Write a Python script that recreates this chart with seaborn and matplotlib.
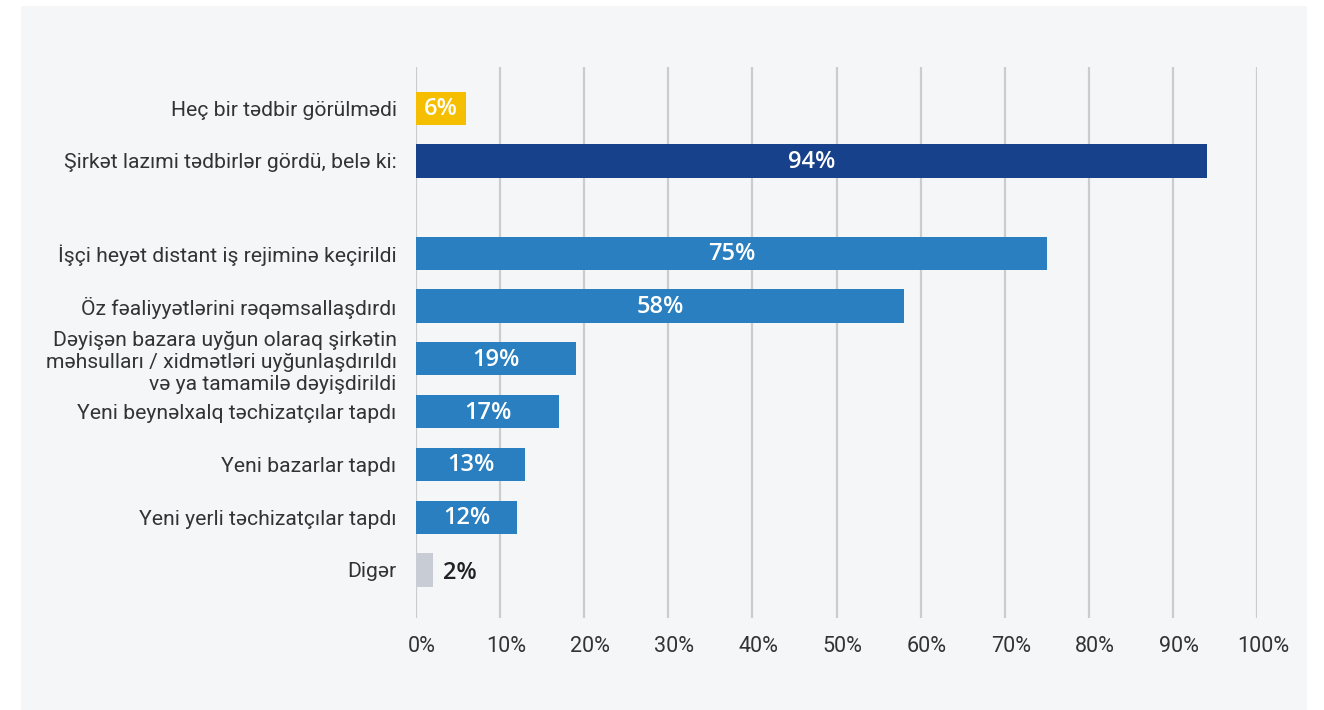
import numpy as np
import pandas as pd
import matplotlib.pyplot as plt
import matplotlib.transforms as mtransforms
import seaborn as sns
from matplotlib.patches import Rectangle

# Data
labels = [
    "Heç bir tədbir görülmədi",
    "Şirkət lazımi tədbirlər gördü, belə ki:",
    "İşçi heyət distant iş rejiminə keçirildi",
    "Öz fəaliyyətlərini rəqəmsallaşdırdı",
    "Dəyişən bazara uyğun olaraq şirkətin\nməhsulları / xidmətləri uyğunlaşdırıldı\nvə ya tamamilə dəyişdirildi",
    "Yeni beynəlxalq təchizatçılar tapdı",
    "Yeni bazarlar tapdı",
    "Yeni yerli təchizatçılar tapdı",
    "Digər",
]
values = [6, 94, 75, 58, 19, 17, 13, 12, 2]
colors = ["#F5BF00", "#17418A", "#2A7FC1", "#2A7FC1", "#2A7FC1",
          "#2A7FC1", "#2A7FC1", "#2A7FC1", "#C8CCD5"]
xticks = [0, 10, 20, 30, 40, 50, 60, 70, 80, 90, 100]

# vertical positions: gap after the first two bars
ypos = np.arange(len(labels)) + np.where(np.arange(len(labels)) >= 2, 0.75, 0.0)

df = pd.DataFrame({"label": labels, "value": values, "pos": ypos})

bg = "#F5F6F8"
plt.rcParams["font.family"] = ["Roboto", "DejaVu Sans"]

fig = plt.figure(figsize=(13.24, 7.10), dpi=100)
fig.patch.set_facecolor("white")
fig.patches.append(Rectangle((21 / 1324, 0), (1307 - 21) / 1324, 1 - 6 / 710,
                             transform=fig.transFigure, facecolor=bg,
                             edgecolor="none", zorder=-10))

ax = fig.add_axes([416 / 1324, 1 - 618 / 710, 841 / 1324, (618 - 67) / 710])
ax.set_facecolor(bg)

sns.barplot(data=df, x="value", y="pos", hue="label", palette=colors,
            orient="y", native_scale=True, width=0.63, dodge=False,
            legend=False, ax=ax, saturation=1, zorder=3)

ax.set_xlim(0, 100)
ax.set_ylim(ypos[-1] + 0.91, -0.78)
ax.set_xticks(xticks)
ax.set_xticklabels([f"{t}%" for t in xticks])
ax.set_yticks(ypos)
ax.set_yticklabels(labels)
ax.tick_params(axis="both", length=0, labelcolor="#333333")
ax.tick_params(axis="x", pad=13, labelsize=15.5)
ax.tick_params(axis="y", pad=14, labelsize=15.2)
for t in ax.get_yticklabels():
    t.set_multialignment("right")
shift = mtransforms.ScaledTranslation(6 / 100, 0, fig.dpi_scale_trans)
for t in ax.get_xticklabels():
    t.set_transform(t.get_transform() + shift)

ax.grid(axis="x", color="#CCCCCC", linewidth=1.6, zorder=0)
ax.grid(axis="y", visible=False)
for s in ax.spines.values():
    s.set_visible(False)
ax.set_xlabel("")
ax.set_ylabel("")

# value labels
for v, p in zip(values, ypos):
    if v >= 5:
        ax.text(v / 2, p + 0.02, f"{v}%", ha="center", va="center", color="white",
                fontsize=17, fontweight="semibold", family=["Open Sans", "DejaVu Sans"], zorder=4)
    else:
        ax.text(v + 1.2, p + 0.05, f"{v}%", ha="left", va="center", color="#222222",
                fontsize=17, fontweight="semibold", family=["Open Sans", "DejaVu Sans"], zorder=4)

fig.savefig("out.png", dpi=100, facecolor="white")
